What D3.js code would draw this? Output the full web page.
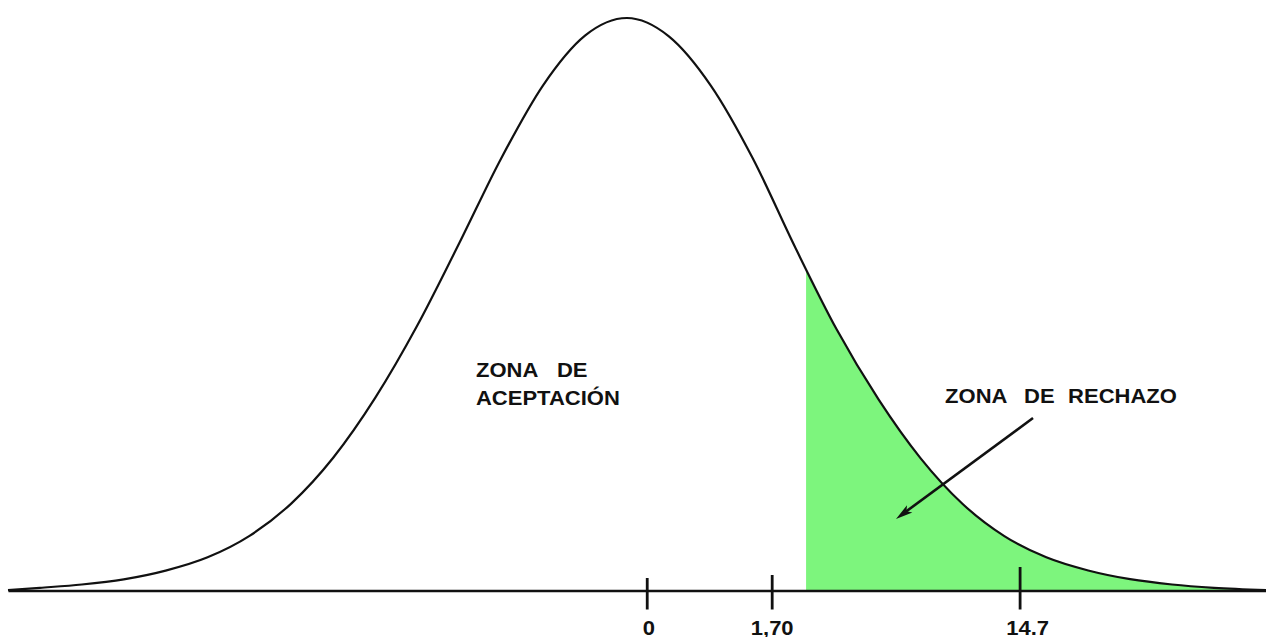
<!DOCTYPE html>
<html>
<head>
<meta charset="utf-8">
<script src="https://cdn.jsdelivr.net/npm/d3@7"></script>
<style>
  body { margin: 0; background: #fff; }
  svg { display: block; }
  .label { font-family: "Liberation Sans", Arial, sans-serif; font-weight: bold; font-size: 20px; fill: #111; }
</style>
</head>
<body>
<svg id="chart"></svg>
<script>
// curve: z position and height (density)
const zValues = [-3.69, -3.5, -3.25, -3.0, -2.75, -2.5, -2.25, -2.0, -1.75, -1.5, -1.25, -1.0,
  -0.75, -0.5, -0.25, 0, 0.25, 0.5, 0.75, 1.0, 1.25, 1.5, 1.75, 2.0, 2.25, 2.5, 2.75,
  3.0, 3.25, 3.5, 3.81];
const density = [0.0003, 0.0019, 0.0042, 0.0078, 0.0139, 0.0232, 0.0382, 0.0609, 0.0929, 0.1347, 0.1851, 0.2426,
  0.3019, 0.353, 0.3877, 0.4, 0.3872, 0.3528, 0.302, 0.2405, 0.1825, 0.1335, 0.0925, 0.0606, 0.038, 0.0232, 0.014,
  0.0079, 0.0042, 0.0019, 0.0003];

// x axis marks
const tickValues = [0.118, 0.863, 2.341];
const tickLabels = ["0", "1,70", "14.7"];

// start of the rejection zone
const rejectStart = 1.068;

const points = zValues.map((z, i) => ({ z: z, p: density[i] }));

const width = 1266;
const height = 637;

const svg = d3.select("#chart").attr("width", width).attr("height", height);

const x = d3.scaleLinear().domain([-3.69, 3.81]).range([8, 1266]);
const y = d3.scaleLinear().domain([0, 0.4]).range([590.5, 18]);

const line = d3.line()
  .x(d => x(d.z))
  .y(d => y(d.p))
  .curve(d3.curveMonotoneX);

const area = d3.area()
  .x(d => x(d.z))
  .y0(y(0))
  .y1(d => y(d.p))
  .curve(d3.curveMonotoneX);

const defs = svg.append("defs");

defs.append("clipPath")
  .attr("id", "reject-clip")
  .append("rect")
  .attr("x", x(rejectStart))
  .attr("y", 0)
  .attr("width", width - x(rejectStart))
  .attr("height", y(0));

defs.append("marker")
  .attr("id", "arrowhead")
  .attr("markerUnits", "userSpaceOnUse")
  .attr("viewBox", "-18 -6 20 12")
  .attr("markerWidth", 20)
  .attr("markerHeight", 12)
  .attr("refX", 0)
  .attr("refY", 0)
  .attr("orient", "auto")
  .append("path")
  .attr("d", "M0,0 L-17,-4.5 L-13,0 L-17,4.5 Z")
  .attr("fill", "#111");

// green rejection zone
svg.append("path")
  .datum(points)
  .attr("d", area)
  .attr("fill", "#7df57d")
  .attr("clip-path", "url(#reject-clip)");

// x axis
const tickUp = [12.5, 15.5, 23.5];
const labelShift = [1.6, 0, 7.5];

const axis = svg.append("g")
  .attr("transform", "translate(0," + y(0) + ")")
  .call(d3.axisBottom(x)
    .tickValues(tickValues)
    .tickFormat((d, i) => tickLabels[i])
    .tickSize(19)
    .tickSizeOuter(0));

axis.select(".domain")
  .attr("stroke", "#111")
  .attr("stroke-width", 2.5);

axis.selectAll(".tick line")
  .attr("y1", (d, i) => -tickUp[i])
  .attr("stroke", "#111")
  .attr("stroke-width", 2.8);

axis.selectAll(".tick text")
  .attr("class", "label")
  .attr("font-size", null)
  .attr("y", 44)
  .attr("dy", 0)
  .attr("x", (d, i) => labelShift[i]);

// curve
svg.append("path")
  .datum(points)
  .attr("d", line)
  .attr("fill", "none")
  .attr("stroke", "#111")
  .attr("stroke-width", 2.2);

// arrow pointing into the rejection zone
const arrowFrom = { z: 2.421, p: 0.1205 };
const arrowTo = { z: 1.604, p: 0.05 };
const ax1 = x(arrowFrom.z), ay1 = y(arrowFrom.p);
const ax2 = x(arrowTo.z), ay2 = y(arrowTo.p);
const alen = Math.hypot(ax2 - ax1, ay2 - ay1);
svg.append("line")
  .attr("x1", ax1)
  .attr("y1", ay1)
  .attr("x2", ax2 - (ax2 - ax1) / alen * 10)
  .attr("y2", ay2 - (ay2 - ay1) / alen * 10)
  .attr("stroke", "#111")
  .attr("stroke-width", 2.6);
svg.append("line")
  .attr("x1", ax2 - (ax2 - ax1) / alen * 11)
  .attr("y1", ay2 - (ay2 - ay1) / alen * 11)
  .attr("x2", ax2)
  .attr("y2", ay2)
  .attr("stroke", "none")
  .attr("marker-end", "url(#arrowhead)");

// zone labels, each word placed on its own
const words = [
  { t: "ZONA", z: -0.9, p: 0.149, dx: 0, dy: 0 },
  { t: "DE", z: -0.9, p: 0.149, dx: 81, dy: 0 },
  { t: "ACEPTACIÓN", z: -0.9, p: 0.149, dx: 0, dy: 28 },
  { t: "ZONA", z: 1.897, p: 0.131, dx: 0, dy: 0 },
  { t: "DE", z: 1.897, p: 0.131, dx: 79, dy: 0 },
  { t: "RECHAZO", z: 1.897, p: 0.131, dx: 123, dy: 0 }
];

svg.selectAll(".word")
  .data(words)
  .enter()
  .append("text")
  .attr("class", "label word")
  .attr("x", d => x(d.z) + d.dx)
  .attr("y", d => y(d.p) + d.dy)
  .text(d => d.t);

// the lettering in the picture is a bit wider than the font
svg.selectAll("text.label").each(function () {
  const w = this.getComputedTextLength();
  d3.select(this)
    .attr("textLength", w * 1.1)
    .attr("lengthAdjust", "spacingAndGlyphs");
});
</script>
</body>
</html>
